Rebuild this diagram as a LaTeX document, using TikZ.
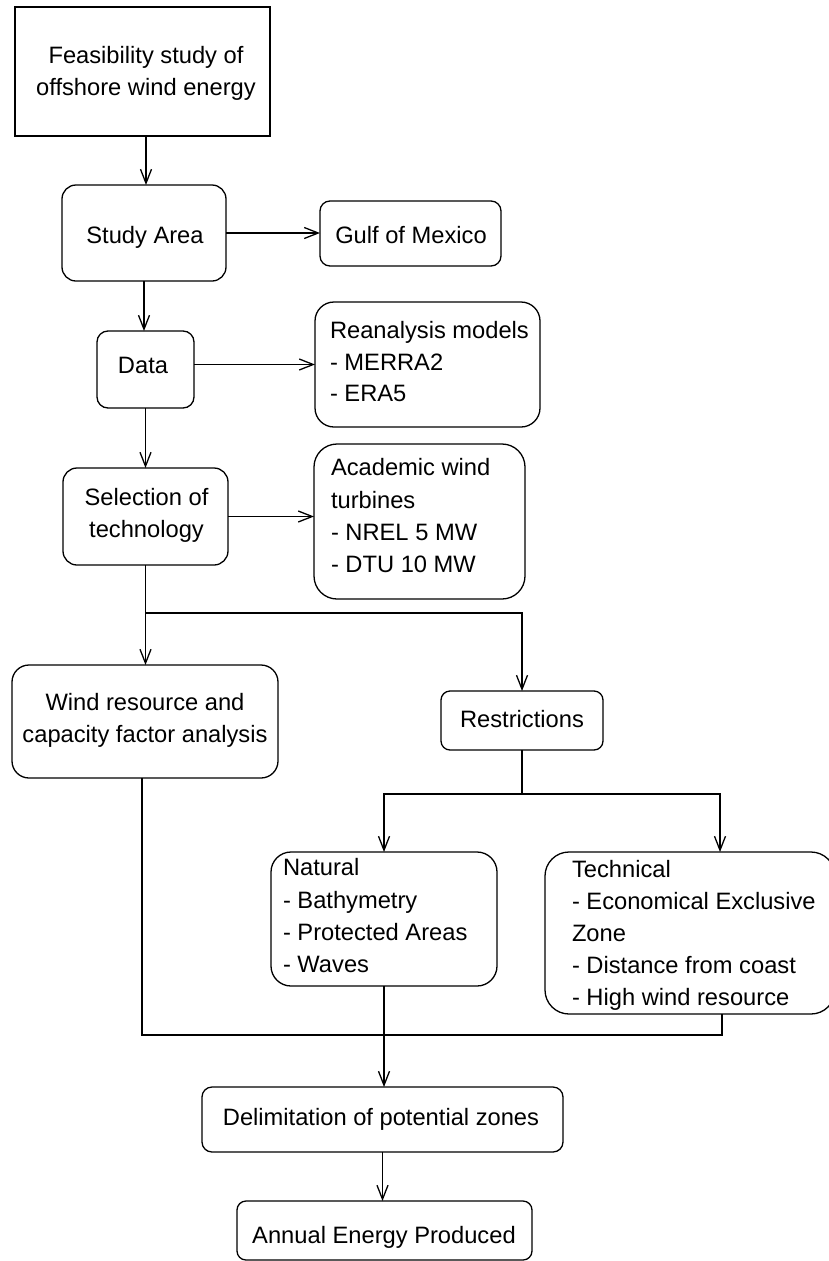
\documentclass[tikz,border=0pt]{standalone}
\usepackage{fontspec}
\setmainfont{Liberation Sans}
\usetikzlibrary{arrows.meta}
\tikzset{
  bx/.style={draw, line width=1.3pt, inner sep=0pt, outer sep=0pt},
  txt/.style={inner sep=0pt, outer sep=0pt, font=\fontsize{23.7}{32}\selectfont},
  ln/.style={line width=1.3pt},
  arr/.style={line width=1.3pt, -{Straight Barb[length=14pt,width=11pt,line width=1.3pt]}}
}
% #1 name, #2 x1, #3 y1, #4 x2, #5 y2, #6 radius
\newcommand\boxnode[6]{%
  \node[bx, rounded corners=#6, minimum width={#4-#2}, minimum height={#5-#3}] (#1) at ({(#2+#4)/2},{(#3+#5)/2}) {};}
\begin{document}
\begin{tikzpicture}[x=1pt,y=-1pt]
\useasboundingbox (0,0) rectangle (829,1261);
\fill[white] (0,0) rectangle (829,1261);

% boxes
\boxnode{feas}{15}{7}{270}{136}{0pt}
\boxnode{sa}{62}{185}{226}{281}{14pt}
\boxnode{gulf}{320}{201}{501}{266}{10pt}
\boxnode{data}{97}{331}{194}{408}{11pt}
\boxnode{rean}{315}{302}{540}{427}{19pt}
\boxnode{sel}{63}{468}{228}{565}{14pt}
\boxnode{acad}{314}{444}{525}{599}{23pt}
\boxnode{wind}{12}{665}{278}{778}{17pt}
\boxnode{restr}{441}{691}{603}{750}{9pt}
\boxnode{nat}{271}{852}{497}{986}{20pt}
\boxnode{tech}{545}{852}{835}{1014}{24pt}
\boxnode{delim}{202}{1087}{563}{1152}{10pt}
\boxnode{ann}{237}{1201}{532}{1260}{9pt}

% texts
\node[txt, anchor=base] (t1) at (146,63) {Feasibility study of};
\node[txt, anchor=base] (t2) at (146,95) {offshore wind energy};
\node[txt, anchor=base] (t3) at (145,243) {Study Area};
\node[txt, anchor=base] (t4) at (411,243) {Gulf of Mexico};
\node[txt, anchor=base] (t5) at (143,373) {Data};
\node[txt, anchor=base west] (t6) at (330,338) {Reanalysis models};
\node[txt, anchor=base west] (t7) at (330,370) {- MERRA2};
\node[txt, anchor=base west] (t8) at (330,401) {- ERA5};
\node[txt, anchor=base] (t9) at (146.5,505) {Selection of};
\node[txt, anchor=base] (t10) at (146.5,537) {technology};
\node[txt, anchor=base west] (t11) at (331,475) {Academic wind};
\node[txt, anchor=base west] (t12) at (331,508) {turbines};
\node[txt, anchor=base west] (t13) at (331,540) {- NREL 5 MW};
\node[txt, anchor=base west] (t14) at (331,572) {- DTU 10 MW};
\node[txt, anchor=base] (t15) at (145,710) {Wind resource and};
\node[txt, anchor=base] (t16) at (145,742) {capacity factor analysis};
\node[txt, anchor=base] (t17) at (522,727) {Restrictions};
\node[txt, anchor=base west] (t18) at (283,875) {Natural};
\node[txt, anchor=base west] (t19) at (283,908) {- Bathymetry};
\node[txt, anchor=base west] (t20) at (283,940) {- Protected Areas};
\node[txt, anchor=base west] (t21) at (283,972) {- Waves};
\node[txt, anchor=base west] (t22) at (572,877) {Technical};
\node[txt, anchor=base west] (t23) at (572,909) {- Economical Exclusive};
\node[txt, anchor=base west] (t24) at (572,941) {Zone};
\node[txt, anchor=base west] (t25) at (572,973) {- Distance from coast};
\node[txt, anchor=base west] (t26) at (572,1005) {- High wind resource};
\node[txt, anchor=base] (t27) at (381,1125) {Delimitation of potential zones};
\node[txt, anchor=base] (t28) at (384,1243) {Annual Energy Produced};

% connector coordinates
\coordinate (j) at (145.5,613);
\coordinate (k) at (522,794);
\coordinate (tin) at (720,852);
\coordinate (tb) at (722,1014);
\coordinate (m) at (722,1035);

% connectors
\draw[arr] ([xshift=3.5pt]feas.south) -- ([xshift=3.5pt]feas.south |- sa.north);
\draw[arr] (sa.east) -- (sa.east -| gulf.west);
\draw[arr] (sa.south) -- (sa.south |- data.north);
\draw[arr] (data.east |- rean.west) -- (rean.west);
\draw[arr] (data.south) -- (data.south |- sel.north);
\draw[arr] (sel.east) -- (sel.east -| acad.west);
\draw[ln] (sel.south) -- (j);
\draw[arr] (j) -- (j |- wind.north);
\draw[arr] (j) -| (restr.north);
\draw[ln] (restr.south) -- (k);
\draw[arr] (k) -| (nat.north);
\draw[arr] (k) -| (tin);
\draw[ln] ([xshift=-3pt]wind.south) |- (m) -- (tb);
\draw[arr] (nat.south) -- (nat.south |- delim.north);
\draw[arr] (delim.south) -- (delim.south |- ann.north);
\end{tikzpicture}
\end{document}
